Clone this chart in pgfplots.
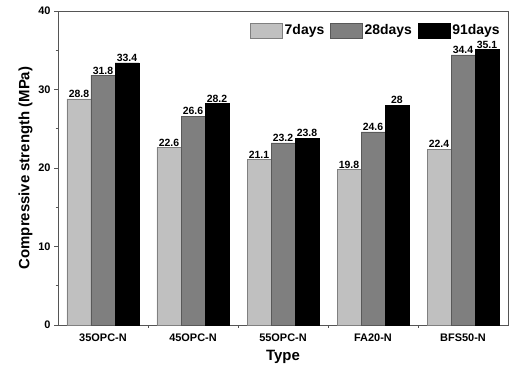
\documentclass[border=0pt]{standalone}
\usepackage{fontspec}
\setmainfont{Liberation Sans}
\usepackage{pgfplots}
\pgfplotsset{compat=1.18}
\definecolor{c7}{HTML}{C0C0C0}
\definecolor{c28}{HTML}{7F7F7F}
\definecolor{c91}{HTML}{000000}
\definecolor{frame}{HTML}{555555}
\begin{document}
\begin{tikzpicture}
\begin{axis}[
  at={(0,0)}, anchor=south west,
  scale only axis, width=450bp, height=314bp,
  xmin=0.5, xmax=5.5, ymin=0, ymax=40,
  ybar=0pt, bar width=24bp,
  xtick={1,2,3,4,5},
  xticklabels={35OPC-N,45OPC-N,55OPC-N,FA20-N,BFS50-N},
  minor xtick={1.5,2.5,3.5,4.5},
  ytick={0,10,20,30,40},
  minor ytick={5,15,25,35},
  axis line style={frame, line width=0.8pt},
  major tick length=4bp, minor tick length=2.5bp,
  tick style={frame, line width=0.8pt},
  xtick pos=bottom, ytick pos=left,
  x tick style={/pgfplots/major tick length=0pt},
  tick align=outside,
  /pgf/number format/assume math mode=true,
  ticklabel style={font=\bfseries\fontsize{11}{13}\selectfont},
  xticklabel style={yshift=-1bp},
  xlabel={Type}, ylabel={Compressive strength (MPa)},
  label style={font=\bfseries\fontsize{15}{17}\selectfont},
  xlabel style={yshift=-2bp},
  ylabel style={yshift=-1bp},
  nodes near coords,
  every node near coord/.append style={font=\bfseries\fontsize{10.5}{12}\selectfont, inner sep=1pt, /pgf/number format/assume math mode=true},
  legend columns=3,
  legend style={at={(rel axis cs:0.993,0.97)}, anchor=north east, draw=none, fill=none,
    font=\bfseries\fontsize{14}{16}\selectfont, /tikz/every even column/.append style={column sep=4bp}},
  legend image code/.code={\draw[#1] (0bp,-7.5bp) rectangle (32bp,7.5bp);},
]
\addplot[fill=c7, draw=gray] coordinates {(1,28.8) (2,22.6) (3,21.1) (4,19.8) (5,22.4)};
\addplot[fill=c28, draw=gray!70!black] coordinates {(1,31.8) (2,26.6) (3,23.2) (4,24.6) (5,34.4)};
\addplot[fill=c91, draw=black] coordinates {(1,33.4) (2,28.2) (3,23.8) (4,28) (5,35.1)};
\legend{7days,28days,91days}
\end{axis}
\pgfresetboundingbox
\path (-58bp,-49bp) rectangle (458bp,325bp);
\end{tikzpicture}
\end{document}
